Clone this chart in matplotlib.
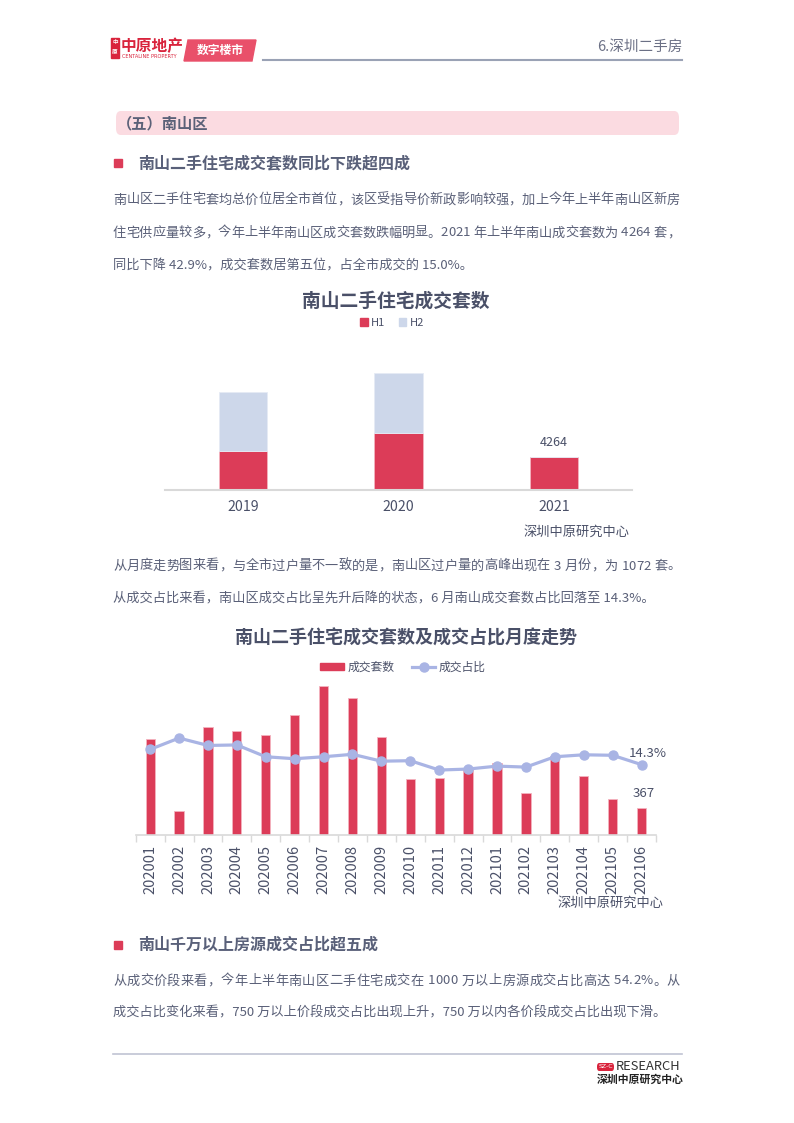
import matplotlib
matplotlib.use("Agg")
import matplotlib.pyplot as plt
from matplotlib.patches import FancyBboxPatch, Rectangle, Polygon, Patch
from matplotlib.lines import Line2D

plt.rcParams['font.family'] = ['Noto Sans CJK SC', 'DejaVu Sans']

W, H = 794, 1123

# ---- data ----
years = ['2019', '2020', '2021']
h1 = [5130, 7468, 4264]
h2 = [7650, 7800, 0]

months = ['202001', '202002', '202003', '202004', '202005', '202006', '202007', '202008', '202009',
          '202010', '202011', '202012', '202101', '202102', '202103', '202104', '202105', '202106']
deals = [1310, 327, 1465, 1415, 1360, 1640, 2030, 1867, 1333, 762, 771, 902, 975, 571, 1072, 798, 485, 367]
share = [17.4, 19.7, 18.2, 18.3, 15.9, 15.5, 15.9, 16.4, 15.0, 15.1, 13.2, 13.4, 14.0, 13.8, 15.9, 16.3, 16.2, 14.3]

RED = '#dc3c58'
LIGHT = '#cdd7ea'
LAV = '#a9b4e4'
TXT = '#5a6078'
DARK = '#4a5068'

fig = plt.figure(figsize=(W / 100, H / 100), dpi=100)


def fy(y):
    return 1 - y / H


def rect(x0, y0, x1, y1):
    return [x0 / W, 1 - y1 / H, (x1 - x0) / W, (y1 - y0) / H]


def txt(x, y, s, **kw):
    return fig.text(x / W, fy(y), s, **kw)


def justify(s, x0, x1, y, size=9.5, color=TXT):
    # spread characters so that the line fills x0..x1
    r = fig.canvas.get_renderer()
    sp = 0.28 * size * 100 / 72
    items = []
    for ch in s:
        if ch == ' ':
            items.append((None, sp))
        else:
            t = txt(0, y, ch, fontsize=size, color=color, va='center', ha='left')
            items.append((t, t.get_window_extent(r).width))
    gap = ((x1 - x0) - sum(w for _, w in items)) / (len(items) - 1)
    x = x0
    for t, w in items:
        if t is not None:
            t.set_x(x / W)
        x += w + gap


# ---- header ----
fig.patches.append(Rectangle((111 / W, fy(58)), 8 / W, 20 / H, transform=fig.transFigure,
                             color='#d9233c'))
txt(115, 43, '中', fontsize=4, color='white', ha='center', va='center', fontweight='bold')
txt(115, 52, '原', fontsize=4, color='white', ha='center', va='center', fontweight='bold')
txt(121, 46, '中原地产', fontsize=11.3, color='#d9233c', fontweight='bold', va='center', ha='left')
txt(122, 57, 'CENTALINE PROPERTY', fontsize=3.6, color='#d9233c', va='center', ha='left',
    family='DejaVu Sans')
fig.patches.append(Polygon([(188 / W, fy(40)), (256 / W, fy(40)), (252 / W, fy(61)),
                            (184 / W, fy(61))], closed=True, transform=fig.transFigure,
                           color='#e9506a'))
txt(220, 50, '数字楼市', fontsize=8.5, color='white', fontweight='bold', style='italic',
    ha='center', va='center')
fig.add_artist(Line2D([263 / W, 682 / W], [fy(60), fy(60)], color='#9aa2b5', lw=1.5))
txt(682, 47, '6.深圳二手房', fontsize=10.5, color='#6b7085', ha='right', va='center')

# ---- section banner ----
fig.patches.append(FancyBboxPatch((116 / W, fy(135)), 563 / W, 24 / H,
                                  boxstyle='round,pad=0,rounding_size=0.006',
                                  transform=fig.transFigure, color='#fbdbe1', lw=0))
txt(117, 123, '（五）南山区', fontsize=11, color='#5b6178', fontweight='bold', va='center',
    ha='left')

# ---- heading 1 + paragraph ----
fig.patches.append(Rectangle((114 / W, fy(167)), 8 / W, 8 / H, transform=fig.transFigure,
                             color=RED))
txt(138, 163, '南山二手住宅成交套数同比下跌超四成', fontsize=11.5, color='#596079',
    fontweight='bold', va='center', ha='left')
justify('南山区二手住宅套均总价位居全市首位，该区受指导价新政影响较强，加上今年上半年南山区新房',
        113, 680, 200)
justify('住宅供应量较多，今年上半年南山区成交套数跌幅明显。2021 年上半年南山成交套数为 4264 套，',
        113, 680, 233)
txt(113, 266, '同比下降 42.9%，成交套数居第五位，占全市成交的 15.0%。', fontsize=9.5, color=TXT,
    va='center', ha='left')

# ---- chart 1: yearly H1/H2 ----
ax1 = fig.add_axes(rect(165, 340, 632, 490))
x1 = range(len(years))
ax1.bar(x1, h1, width=0.31, color=RED, edgecolor='#f3b3bf', lw=0.6, label='H1')
ax1.bar(x1, h2, width=0.31, bottom=h1, color=LIGHT, edgecolor='#e6ebf5', lw=0.6, label='H2')
ax1.set_xlim(-0.5, 2.5)
ax1.set_ylim(0, 19600)
for s in ['top', 'right', 'left']:
    ax1.spines[s].set_visible(False)
ax1.spines['bottom'].set_color('#d9d9d9')
ax1.spines['bottom'].set_linewidth(1.5)
ax1.set_yticks([])
ax1.set_xticks(list(x1))
ax1.set_xticklabels(years, fontsize=10.2, color=DARK)
ax1.tick_params(axis='x', length=0, pad=7)
ax1.annotate(str(h1[2]), (2, h1[2]), xytext=(0, 15), textcoords='offset pixels',
             ha='center', va='center', fontsize=9, color=DARK)
txt(396, 301, '南山二手住宅成交套数', fontsize=13.5, color='#4a5068', fontweight='bold',
    ha='center', va='center')
fig.legend(handles=[Patch(color=RED, label='H1'), Patch(color=LIGHT, label='H2')],
           loc='center', bbox_to_anchor=(392 / W, fy(323)), ncol=2, frameon=False,
           fontsize=8, handlelength=0.7, handleheight=0.7, handletextpad=0.3,
           columnspacing=1.2, labelcolor=DARK)
txt(523, 532, '深圳中原研究中心', fontsize=9.5, color=DARK, ha='left', va='center')

# ---- paragraph 2 ----
justify('从月度走势图来看，与全市过户量不一致的是，南山区过户量的高峰出现在 3 月份，为 1072 套。',
        113, 681, 566)
txt(113, 599, '从成交占比来看，南山区成交占比呈先升后降的状态，6 月南山成交套数占比回落至 14.3%。',
    fontsize=9.5, color=TXT, va='center', ha='left')

# ---- chart 2: monthly ----
ax = fig.add_axes(rect(135.7, 680, 656, 835))
xm = list(range(len(months)))
ax.bar(xm, deals, width=0.32, color=RED, edgecolor='#f3b3bf', lw=0.6)
ax.set_xlim(-0.5, len(months) - 0.5)
ax.set_ylim(0, 2110)
for s in ['top', 'right', 'left']:
    ax.spines[s].set_visible(False)
ax.spines['bottom'].set_color('#d9d9d9')
ax.spines['bottom'].set_linewidth(1.2)
ax.set_yticks([])
ax.set_xticks(xm)
ax.set_xticklabels(months, rotation=90, fontsize=10.5, color=DARK)
ax.tick_params(axis='x', which='major', length=0, pad=7)
ax.set_xticks([i - 0.5 for i in range(len(months) + 1)], minor=True)
ax.tick_params(axis='x', which='minor', length=5, width=1, color='#d9d9d9', direction='out')
ax.annotate(str(deals[-1]), (xm[-1], deals[-1]), xytext=(2, 15), textcoords='offset pixels',
            ha='center', va='center', fontsize=9.5, color=DARK)

ax2 = ax.twinx()
ax2.plot(xm, share, color=LAV, lw=2.3, marker='o', ms=6.5)
ax2.set_ylim(0, 31.5)
ax2.set_yticks([])
for s in ax2.spines.values():
    s.set_visible(False)
ax2.annotate('%.1f%%' % share[-1], (xm[-1], share[-1]), xytext=(6, 11),
             textcoords='offset pixels', ha='center', va='center', fontsize=9.5, color=DARK)

txt(406, 638, '南山二手住宅成交套数及成交占比月度走势', fontsize=13, color='#4a5068',
    fontweight='bold', ha='center', va='center')
fig.legend(handles=[Patch(color=RED, label='成交套数'),
                    Line2D([], [], color=LAV, lw=2.3, marker='o', ms=6.5, label='成交占比')],
           loc='center', bbox_to_anchor=(403 / W, fy(667)), ncol=2, frameon=False,
           fontsize=8.5, handlelength=2.0, handleheight=0.55, handletextpad=0.3,
           columnspacing=1.5, labelcolor=DARK)
txt(558, 903, '深圳中原研究中心', fontsize=9.5, color=DARK, ha='left', va='center')

# ---- heading 2 + paragraph 3 ----
fig.patches.append(Rectangle((114 / W, fy(949)), 8 / W, 8 / H, transform=fig.transFigure,
                             color=RED))
txt(138, 945, '南山千万以上房源成交占比超五成', fontsize=11.5, color='#596079',
    fontweight='bold', va='center', ha='left')
justify('从成交价段来看，今年上半年南山区二手住宅成交在 1000 万以上房源成交占比高达 54.2%。从',
        113, 680, 981)
txt(113, 1013, '成交占比变化来看，750 万以上价段成交占比出现上升，750 万以内各价段成交占比出现下滑。',
    fontsize=9.5, color=TXT, va='center', ha='left')

# ---- footer ----
fig.add_artist(Line2D([113 / W, 682 / W], [fy(1054), fy(1054)], color='#c0c3d3', lw=1.2))
fig.patches.append(FancyBboxPatch((597 / W, fy(1071)), 17 / W, 8 / H,
                                  boxstyle='round,pad=0,rounding_size=0.003',
                                  transform=fig.transFigure, color='#d9233c', lw=0))
txt(605.5, 1067, 'SZ-C', fontsize=4.5, color='white', ha='center', va='center',
    family='DejaVu Sans')
txt(616, 1067, 'RESEARCH', fontsize=9.3, color='#333333', ha='left', va='center')
txt(597, 1080, '深圳中原研究中心', fontsize=7.8, color='#222222', fontweight='bold',
    ha='left', va='center')

fig.savefig('out.png', dpi=100)
